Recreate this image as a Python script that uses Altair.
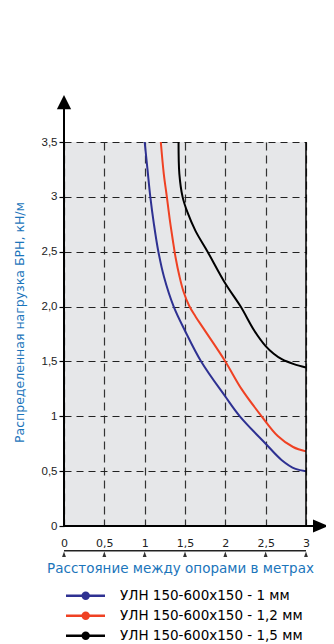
import json
import altair as alt
import pandas as pd

# ---------------- data ----------------
series = ["УЛН 150-600x150 - 1 мм", "УЛН 150-600x150 - 1,2 мм", "УЛН 150-600x150 - 1,5 мм"]
colors = ["#2e3192", "#ef4123", "#000000"]

x_1mm = [1.0, 1.035, 1.07, 1.115, 1.17, 1.24, 1.36, 1.5, 1.7, 2.0, 2.18, 2.5, 2.7, 2.87, 3.0]
y_1mm = [3.5, 3.25, 3.0, 2.75, 2.5, 2.27, 2.0, 1.78, 1.5, 1.18, 1.0, 0.75, 0.6, 0.52, 0.5]

x_12mm = [1.2, 1.237, 1.275, 1.31, 1.35, 1.385, 1.43, 1.48, 1.55, 1.63, 1.72, 2.0, 2.2, 2.45, 2.65, 2.84, 3.0]
y_12mm = [3.5, 3.21, 3.0, 2.8, 2.6, 2.44, 2.28, 2.14, 2.01, 1.91, 1.81, 1.5, 1.25, 1.0, 0.82, 0.72, 0.68]

x_15mm = [1.42, 1.43, 1.47, 1.53, 1.63, 1.78, 2.0, 2.19, 2.36, 2.5, 2.6, 2.7, 2.85, 3.0]
y_15mm = [3.5, 3.21, 3.0, 2.86, 2.69, 2.5, 2.21, 2.0, 1.78, 1.64, 1.57, 1.52, 1.475, 1.445]

x_ticks = [0, 0.5, 1, 1.5, 2, 2.5, 3]
x_tick_labels = ["0", "0,5", "1", "1,5", "2", "2,5", "3"]
y_ticks = [0, 0.5, 1, 1.5, 2, 2.5, 3, 3.5]
y_tick_labels = ["0", "0,5", "1", "1,5", "2,0", "2,5", "3", "3,5"]

x_title = "Расстояние между опорами в метрах"
y_title = "Распределенная нагрузка БРН, кН/м"

# ---------------- build table ----------------
rows = []
for name, xs, ys in zip(series, [x_1mm, x_12mm, x_15mm], [y_1mm, y_12mm, y_15mm]):
    for i, (a, b) in enumerate(zip(xs, ys)):
        rows.append({"x": a, "y": b, "series": name, "idx": i})
df = pd.DataFrame(rows)
leg_df = pd.DataFrame({"series": series, "row": list(range(len(series)))})
tick_df = pd.DataFrame({"x": x_ticks})
one = pd.DataFrame({"k": [0]})

BLUE = "#1b75bb"
W, H = 242, 384

xs_ = alt.Scale(domain=[0, 3], nice=False, zero=False)
ys_ = alt.Scale(domain=[0, 3.5], nice=False, zero=False)
col = alt.Color("series:N", scale=alt.Scale(domain=series, range=colors), legend=None)

x_axis = alt.Axis(
    values=x_ticks,
    labelExpr=json.dumps(x_tick_labels, ensure_ascii=False) + "[round(datum.value*2)]",
    labelFont="DejaVu Sans", labelFontSize=11, labelColor="#222222",
    labelPadding=11, ticks=False, tickSize=0, domain=False,
    grid=True, gridDash=[8, 5], gridColor="#333333", gridWidth=1.2, gridOpacity=1,
    title=x_title, titleFont="DejaVu Sans", titleFontSize=13.5, titleFontWeight="normal",
    titleColor=BLUE, titleY=42, titleBaseline="middle", titleX=116, titleAlign="center",
    labelFlush=False, labelOverlap=False,
)
y_axis = alt.Axis(
    values=y_ticks,
    labelExpr=json.dumps(y_tick_labels, ensure_ascii=False) + "[round(datum.value*2)]",
    labelFont="Liberation Sans", labelFontSize=11.5, labelColor="#222222",
    labelPadding=2, ticks=True, tickSize=5, tickColor="black", tickWidth=1.2,
    domain=False,
    grid=True, gridDash=[7, 5], gridColor="#222222", gridWidth=1.2, gridOpacity=1,
    title=y_title, titleFont="DejaVu Sans", titleFontSize=12.5, titleFontWeight="normal",
    titleColor=BLUE, titleX=-45, titleY=180, titleAngle=270, titleBaseline="middle",
    titleAlign="center", labelFlush=False, labelOverlap=False,
)

curves = alt.Chart(df).mark_line(strokeWidth=2, interpolate="catmull-rom").encode(
    x=alt.X("x:Q", scale=xs_, axis=x_axis),
    y=alt.Y("y:Q", scale=ys_, axis=y_axis),
    color=col,
    order=alt.Order("idx:Q"),
)

def XD(v):
    return alt.XDatum(v, type="quantitative", scale=xs_)

def YD(v):
    return alt.YDatum(v, type="quantitative", scale=ys_)

right_border = alt.Chart(one).mark_rule(color="black", strokeWidth=1.5).encode(
    x=XD(3), y=YD(0), y2=alt.Y2Datum(3.5))
x_line = alt.Chart(one).mark_rule(color="black", strokeWidth=2).encode(
    x=XD(0), x2=alt.X2Datum(3.12), y=YD(0))
y_line = alt.Chart(one).mark_rule(color="black", strokeWidth=2).encode(
    x=XD(0), y=YD(0), y2=alt.Y2Datum(3.8))
y_arrow = alt.Chart(one).mark_point(
    shape="M-1,1L0,-1L1,1Z", filled=True, color="black", opacity=1, size=204, strokeWidth=0
).encode(x=XD(0), y=YD(3.863))
x_arrow = alt.Chart(one).mark_point(
    shape="M-1,-0.87L1,0L-1,0.87Z", filled=True, color="black", opacity=1, size=225, strokeWidth=0
).encode(x=XD(3.18), y=YD(0))
scale_line = alt.Chart(one).mark_rule(color="#222222", strokeWidth=1.5).encode(
    x=XD(0), x2=alt.X2Datum(3), y=YD(-0.225))
scale_tri = alt.Chart(tick_df).mark_point(
    shape="M-0.7,1L0,-1L0.7,1Z", filled=True, color="#333333", opacity=1, size=30, strokeWidth=0
).encode(x=alt.X("x:Q", scale=xs_), y=YD(-0.258))

main = alt.layer(curves, right_border, x_line, y_line, y_arrow, x_arrow, scale_line, scale_tri)

leg_y = alt.Y("row:Q", scale=alt.Scale(domain=[0, 2], range=[453.7, 493.7], nice=False, zero=False), axis=None)
leg_rule = alt.Chart(leg_df).mark_rule(strokeWidth=2.5).encode(
    x=alt.value(2), x2=alt.value(41), y=leg_y, color=col)
leg_pt = alt.Chart(leg_df).mark_point(filled=True, opacity=1, size=70).encode(
    x=alt.value(21.7), y=leg_y, color=col)
leg_txt = alt.Chart(leg_df).mark_text(
    align="left", baseline="middle", font="DejaVu Sans", fontSize=13.5, color="black"
).encode(x=alt.value(56), y=leg_y, text="series:N")
legend = alt.layer(leg_rule, leg_pt, leg_txt)

chart = alt.layer(main, legend).resolve_scale(y="independent").properties(
    width=W, height=H,
    autosize=alt.AutoSizeParams(type="none"),
    padding={"left": 56, "top": 134, "right": 20, "bottom": 119},
).configure_view(fill="#e6e7e9", stroke=None)

chart.save("out.html", embed_options={"renderer": "svg", "actions": False})
